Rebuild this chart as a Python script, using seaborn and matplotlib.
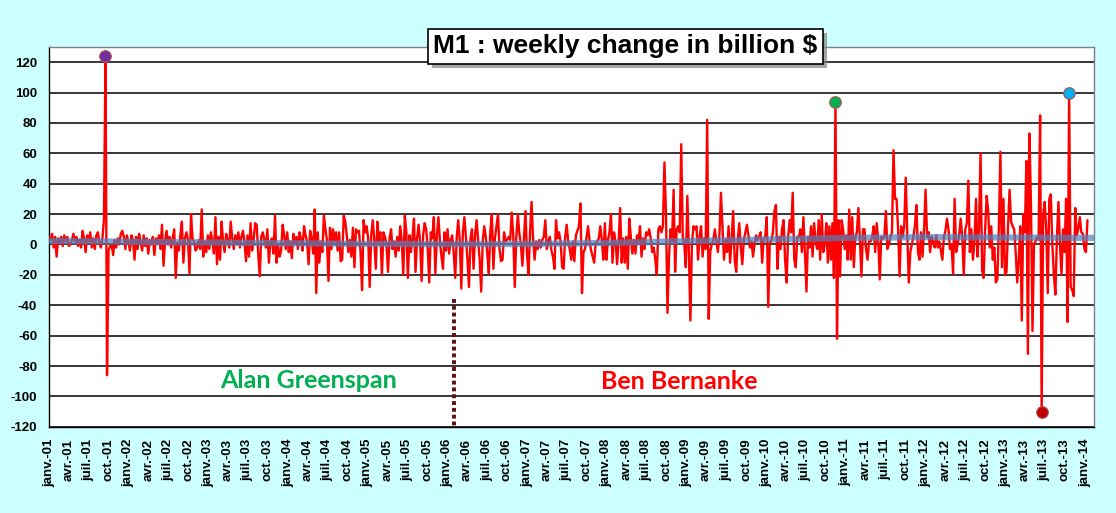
import matplotlib
matplotlib.use("Agg")
import matplotlib.pyplot as plt
import matplotlib.dates as mdates
import matplotlib.patheffects as pe
import pandas as pd
import seaborn as sns

# weekly change of M1 in billion $, 52 weeks per row from 2001-01-01
wk_2001 = [5, 3, 7, -2, 5, -8, 4, 1, 5, -1, 6, 2, 5, -1, 0, 3, 7, 2, 5, -1,
           3, -2, 9, 4, -5, 6, 2, 8, -2, 4, -3, 6, 8, 1, -2, 4, 17, 124, -86, -4,
           -1, 0, -7, 3, -2, 4, 0, 7, 9, 5, -3, 6]
wk_2002 = [2, -4, 6, 3, -10, 5, -3, 7, 2, -4, 6, -1, 4, -6, 3, 0, 5, -7, 4, 1,
           6, -3, 13, -14, 2, 9, 0, 5, -2, 4, 10, -22, 1, -4, 6, 15, -12, 4, 8, 3,
           -19, 20, 4, 2, -4, -2, 3, -3, 23, -8, 2, -5]
wk_2003 = [6, -3, 8, 2, -6, 18, -13, 5, -10, 15, 2, -5, 7, 3, -2, 15, 4, -3, 6, 1,
           8, -2, 5, 9, 2, -11, 6, -8, 14, -4, 3, 14, 13, -6, -21, 5, 8, 3, -2, 10,
           -12, 2, 4, -6, 19, -12, 0, -8, -4, 13, 6, -3]
wk_2004 = [8, -5, 2, -9, 7, 1, 5, -3, 8, 4, -4, 12, 6, 2, -13, 9, 4, -6, 23, -32,
           8, -12, 2, -5, 19, 10, 3, -24, 11, -3, 10, 2, 8, -4, 8, -11, -10, 19, 15, 6,
           -5, 3, -8, 11, -15, 10, 8, 9, -5, -30, 16, 8]
wk_2005 = [12, 4, -28, 6, 16, 3, -16, 15, 2, 8, -20, 8, 5, 0, -18, 4, 10, -3, 2, -8,
           5, -4, 12, 2, -20, 19, 8, -22, 6, -5, 5, 17, -18, 4, 13, 2, -24, 6, 14, 10,
           -3, -25, 8, 4, 18, -19, 6, 18, 2, -8, -16, 8]
wk_2006 = [-4, 10, -6, 3, 6, -5, -22, 5, 16, 2, -29, 8, 18, 5, -10, -28, 4, 10, -16, 6,
           16, 3, -10, -31, 2, 12, 5, -6, -19, 9, 20, -16, 4, 12, 20, -3, -11, -10, 8, 2,
           3, 5, 3, 21, 6, -28, 5, 20, 7, 0, -14, 4]
wk_2007 = [22, -6, -20, 8, 28, 3, -10, 2, -3, 3, -2, 3, 5, 16, -3, 2, 5, -4, -8, -16,
           16, 4, 8, 2, -15, -16, 5, 13, 2, -3, -10, 2, -11, 6, 9, 12, 27, -32, -5, -3,
           5, 12, 2, -4, -8, -12, 1, 2, 4, 12, 3, -10]
wk_2008 = [14, -10, 3, 8, 20, -12, 8, 2, -13, 2, 24, -12, 4, -12, 5, -16, 17, 5, -6, 3,
           -6, 6, 2, 12, -8, 4, -3, 8, 6, 10, 4, -5, -2, -10, -20, 10, 12, 8, 12, 54,
           20, -45, -8, 10, 2, 36, -18, 10, 12, 8, 66, 5]
wk_2009 = [0, -15, 32, -5, -50, 0, 12, 10, 12, -10, 5, 12, -8, 4, -3, 82, -49, -5, 0, 3,
           10, 2, -5, 6, 34, 12, -10, 3, -5, 12, -12, 4, 22, -10, -18, 3, 14, -2, -13, 3,
           8, 13, 6, -2, 2, -8, 0, 6, 3, 5, 8, -12]
wk_2010 = [4, 5, 18, -41, 2, 2, 8, 22, 26, -16, 5, -3, 10, 16, -10, -25, 5, 16, 8, 34,
           -10, -15, 5, 5, 10, -5, 18, -5, -31, 5, -2, 12, -8, 14, 2, -3, 16, -10, 20, -5,
           0, 14, -12, 12, -10, 14, -22, 94, -62, 16, -21, 16]
wk_2011 = [10, -3, 6, -10, 23, -10, 18, -15, 5, 8, 24, 3, -21, 10, 10, -3, -10, 2, 2, 5,
           12, -5, 14, 3, -23, 5, 4, 5, 22, -3, 0, 5, 8, 62, 30, 30, 10, -21, 12, 5,
           12, 44, 8, -25, -5, 0, 5, 12, 26, -5, -10, 8]
wk_2012 = [-8, 10, 36, 5, 8, -5, 5, 2, -2, 6, -2, 2, -4, -10, 5, 9, 17, 10, -3, 0,
           -19, 30, -5, 0, 6, 17, 5, -20, 10, 14, 42, -5, 10, -10, 2, 30, -8, 12, 60, -17,
           -22, 10, 32, 22, -2, 12, -10, -2, -25, -23, 12, 61]
wk_2013 = [-15, 30, -20, -18, 12, 36, 15, 12, 10, -5, -25, -10, 12, -50, 20, 8, 55, -72, 73, 28,
           -57, 0, 2, 5, 3, 85, -110, 20, 28, 10, -32, 30, 33, 0, -20, -33, 5, 28, 0, -20,
           10, -5, 30, -51, 100, -28, -30, -34, 24, 6, 10, 18]
wk_2014 = [8, 7, -3, -5, 16]

# trend line drawn in the original (value at each date)
trend_dates = ["2001-01-01", "2002-01-01", "2003-01-01", "2004-01-01", "2005-01-01",
               "2006-01-01", "2007-01-01", "2008-01-01", "2009-01-01", "2010-01-01",
               "2011-01-01", "2012-01-01", "2013-01-01", "2014-01-01", "2014-02-10"]
trend_vals = [2.3, 1.8, 1.3, 0.8, 0.4, 0.2, 0.3, 1.0, 2.2, 3.3, 4.3, 4.8, 4.6, 4.3, 4.3]

month_fr = {1: "janv.", 4: "avr.", 7: "juil.", 10: "oct."}
title = "M1 : weekly change in billion $"

# highlighted points: (year, max/min, colour)
highlight = [(2001, "max", "#7030A0"), (2010, "max", "#00B050"),
             (2013, "max", "#00B0F0"), (2013, "min", "#C00000")]

values = (wk_2001 + wk_2002 + wk_2003 + wk_2004 + wk_2005 + wk_2006 + wk_2007 +
          wk_2008 + wk_2009 + wk_2010 + wk_2011 + wk_2012 + wk_2013 + wk_2014)
df = pd.DataFrame({"date": pd.date_range("2001-01-01", periods=len(values), freq="7D"),
                   "change": values})
trend = pd.DataFrame({"date": pd.to_datetime(trend_dates), "trend": trend_vals})

sns.set_style("white")
plt.rcParams["font.family"] = ["Liberation Sans", "DejaVu Sans"]

fig = plt.figure(figsize=(11.16, 5.13), dpi=100, facecolor="#CCFFFF")
ax = fig.add_axes([0.0439, 0.168, 0.936, 0.7405])
ax.set_facecolor("white")

sns.lineplot(data=df, x="date", y="change", color="#FF0000", lw=1.7,
             estimator=None, ax=ax, zorder=3)
sns.lineplot(data=trend, x="date", y="trend", color="#4F81BD", lw=4.5,
             alpha=0.7, ax=ax, zorder=4)

for year, kind, col in highlight:
    sub = df[df["date"].dt.year == year]
    idx = sub["change"].idxmax() if kind == "max" else sub["change"].idxmin()
    ax.scatter(df.loc[idx, "date"], df.loc[idx, "change"], s=70, color=col,
               edgecolor="#B05050", linewidth=0.8, zorder=6)

# Greenspan -> Bernanke
d0 = mdates.date2num(pd.Timestamp("2006-02-01"))
ax.plot([d0, d0], [-36, -120], color="#5C1010", lw=2.8, ls=(0, (1, 0.75)), zorder=5)
ax.text(mdates.date2num(pd.Timestamp("2004-04-05")), -89.5, "Alan Greenspan",
        color="#00B050", fontsize=18, fontweight="bold", family=["Lato", "DejaVu Sans"],
        ha="center", va="center")
ax.text(mdates.date2num(pd.Timestamp("2008-11-28")), -90.5, "Ben Bernanke",
        color="#FF0000", fontsize=18, fontweight="bold", family=["Lato", "DejaVu Sans"],
        ha="center", va="center")

xt = pd.date_range("2001-01-01", "2014-01-01", freq="QS")
ax.set_xticks(xt)
ax.set_xticklabels([f"{month_fr[d.month]}-{d.year % 100:02d}" for d in xt],
                   rotation=90, fontweight="bold", fontsize=9.5)
ax.set_xlim(pd.Timestamp("2001-01-01"), pd.Timestamp("2014-02-10"))
ax.set_ylim(-120, 130)
ax.set_yticks(range(-120, 121, 20))
ax.set_yticklabels([str(v) for v in range(-120, 121, 20)], fontweight="bold", fontsize=9.5)
ax.tick_params(axis="both", direction="out", length=5, width=1, colors="black")
ax.grid(axis="y", color="black", lw=1.1)
ax.set_axisbelow(True)
ax.set_xlabel("")
ax.set_ylabel("")
for side in ["left", "bottom"]:
    ax.spines[side].set_color("black")
    ax.spines[side].set_linewidth(1)
for side in ["top", "right"]:
    ax.spines[side].set_color("#808080")
    ax.spines[side].set_linewidth(1)

# title box with drop shadow
t = fig.text(0.5605, 0.9095, title, fontsize=19, fontweight="bold", color="black",
             ha="center", va="center",
             bbox=dict(boxstyle="square,pad=0.2", fc="white", ec="black", lw=1.2))
t.get_bbox_patch().set_path_effects([
    pe.SimplePatchShadow(offset=(3, -3), shadow_rgbFace="#808080", alpha=0.7),
    pe.Normal()])

fig.savefig("out.png", dpi=100, facecolor=fig.get_facecolor())
